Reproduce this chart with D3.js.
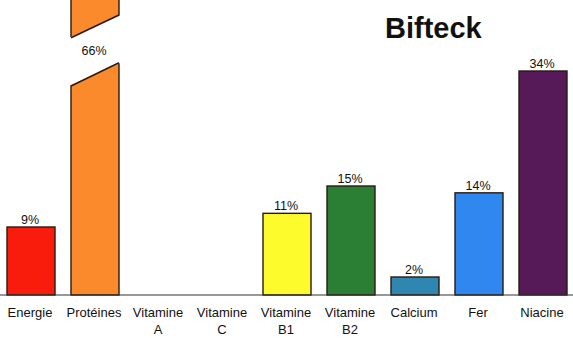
<!DOCTYPE html>
<html>
<head>
<meta charset="utf-8">
<script src="https://cdn.jsdelivr.net/npm/d3@7"></script>
<style>
  html, body { margin: 0; padding: 0; background: #fff; }
  svg { display: block; }
  text { font-family: "Liberation Sans", Arial, Helvetica, sans-serif; fill: #111; }
</style>
</head>
<body>
<svg id="chart" width="573" height="338"></svg>
<script>
// ---- data ----
const categories = ["Energie", "Protéines", "Vitamine A", "Vitamine C", "Vitamine B1", "Vitamine B2", "Calcium", "Fer", "Niacine"];
const values = [9, 66, null, null, 11, 15, 2, 14, 34];
const valueLabels = ["9%", "66%", "", "", "11%", "15%", "2%", "14%", "34%"];
const colors = ["#f91c0c", "#fb8a2c", "#fdfb2c", "#2a7f35", "#2f86b0", "#3087f0", "#571a58"];
const title = "Bifteck";

// ---- layout ----
const W = 573, H = 338;
const baseY = 295;
const svg = d3.select("#chart");

const x = d3.scaleBand().domain(categories).range([-1, 575]).paddingInner(0.25).paddingOuter(0.125);
// the original drawing is not strictly linear; a piecewise scale follows it
const y = d3.scaleLinear().domain([0, 2, 9, 15, 34]).range([baseY, 277, 227, 186, 71]);

const data = categories.map((c, i) => ({ cat: c, v: values[i], label: valueLabels[i] }));
const withVal = data.filter(d => d.v != null);
const colorOf = d3.scaleOrdinal().domain(withVal.map(d => d.cat)).range(colors);

// bars
svg.append("g").selectAll("rect").data(withVal).join("rect")
  .attr("x", d => x(d.cat))
  .attr("y", d => Math.max(y(d.v), -10))
  .attr("width", x.bandwidth())
  .attr("height", d => baseY - Math.max(y(d.v), -10))
  .attr("fill", d => colorOf(d.cat))
  .attr("stroke", "#2a1a10")
  .attr("stroke-width", 1.4);

// break on the tall bar (Protéines)
const broken = withVal.filter(d => y(d.v) < 0);
broken.forEach(d => {
  const x0 = x(d.cat), x1 = x(d.cat) + x.bandwidth();
  const g = svg.append("g");
  g.append("polygon")
    .attr("points", [[x0 - 2, 37.7], [x1 + 2, 15], [x1 + 2, 62.7], [x0 - 2, 86]].map(p => p.join(",")).join(" "))
    .attr("fill", "#fff");
  g.append("line").attr("x1", x0).attr("y1", 37.7).attr("x2", x1).attr("y2", 15)
    .attr("stroke", "#2a1a10").attr("stroke-width", 1.6);
  g.append("line").attr("x1", x0).attr("y1", 86).attr("x2", x1).attr("y2", 62.7)
    .attr("stroke", "#2a1a10").attr("stroke-width", 1.6);
  g.append("text")
    .attr("x", x0 + x.bandwidth() / 2 - 1)
    .attr("y", 55)
    .attr("text-anchor", "middle")
    .attr("font-size", 12.5)
    .text(d.label);
});

// baseline
svg.append("line")
  .attr("x1", 0).attr("x2", W)
  .attr("y1", baseY).attr("y2", baseY)
  .attr("stroke", "#333").attr("stroke-width", 1.2);

// value labels
svg.append("g").selectAll("text").data(withVal.filter(d => y(d.v) >= 0)).join("text")
  .attr("x", d => x(d.cat) + x.bandwidth() / 2 - 1)
  .attr("y", d => y(d.v) - 3)
  .attr("text-anchor", "middle")
  .attr("font-size", 12.5)
  .text(d => d.label);

// category labels
const cl = svg.append("g").selectAll("text").data(categories).join("text")
  .attr("x", d => x(d) + x.bandwidth() / 2 - 1)
  .attr("y", 317)
  .attr("text-anchor", "middle")
  .attr("font-size", 13);
cl.each(function(d) {
  const parts = d.split(" ");
  const t = d3.select(this);
  parts.forEach((p, i) => {
    t.append("tspan")
      .attr("x", x(d) + x.bandwidth() / 2 - 1)
      .attr("dy", i === 0 ? 0 : 17)
      .text(p);
  });
});

// title
svg.append("text")
  .attr("x", 385)
  .attr("y", 37.5)
  .attr("font-size", 29)
  .attr("font-weight", "bold")
  .text(title);
</script>
</body>
</html>
